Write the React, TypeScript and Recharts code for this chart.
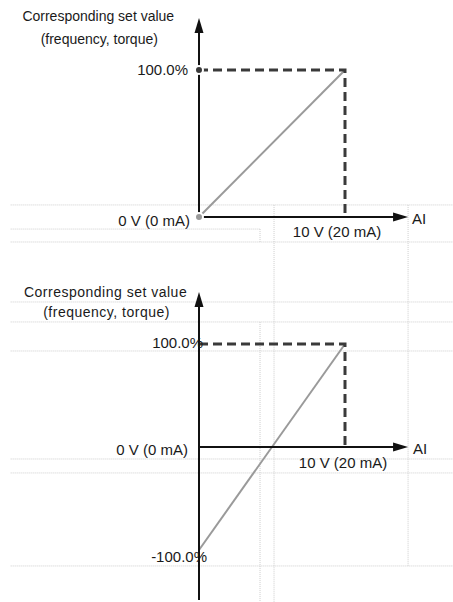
import React from "react";
import {
  ComposedChart,
  Line,
  Scatter,
  XAxis,
  YAxis,
  ReferenceLine,
  ReferenceDot,
} from "recharts";

// analog input range (V) and the set value it maps to (%)
const inputVolts = [0, 10];
const unipolarSetValue = [0, 100];
const bipolarSetValue = [-100, 100];

const titleLines = ["Corresponding set value", "(frequency, torque)"];
const zeroInputLabel = "0 V (0 mA)";
const fullInputLabel = "10 V (20 mA)";
const xAxisName = "AI";
const maxLabel = "100.0%";
const minLabel = "-100.0%";

const W = 453;
const FONT = "'Liberation Sans', Arial, sans-serif";

type Pt = { x: number; y: number };
type Rule = { from: Pt; to: Pt };

const h = (y: number, x1: number, x2: number): Rule => ({ from: { x: x1, y }, to: { x: x2, y } });
const v = (x: number, y1: number, y2: number): Rule => ({ from: { x, y: y1 }, to: { x, y: y2 } });

// faint page rules visible behind the figure (data units of each panel)
const topRules: Rule[] = [
  h(8.2, -12.9, 17.4),
  h(-8.2, -12.9, 4.18),
  h(-17.0, -12.9, 17.4),
  v(4.18, -8.2, -17.0),
  v(5.14, 8.2, -40),
  v(14.32, 8.2, -40),
];
const bottomRules: Rule[] = [
  h(140.8, -12.9, 17.4),
  h(121.4, -12.9, 17.4),
  h(93.2, -12.9, 17.4),
  h(-11.65, -12.9, 17.4),
  h(-25.2, -12.9, 17.4),
  h(-115.5, -12.9, 17.4),
  v(4.18, 121.4, -155),
  v(5.14, 175, -155),
  v(14.32, 175, -115.5),
];

const arrowShape = (props: any) => {
  const { cx, cy, payload } = props;
  if (cx == null || cy == null) return <g />;
  const pts =
    payload.dir === "up"
      ? `${cx},${cy} ${cx - 4.5},${cy + 15} ${cx + 4.5},${cy + 15}`
      : `${cx},${cy} ${cx - 15},${cy - 4.5} ${cx - 15},${cy + 4.5}`;
  return <polygon points={pts} fill="#111" />;
};

const textShape =
  (text: string, dx: number, dy: number, anchor: "start" | "middle" | "end", size = 15, spacing = 0) =>
  (props: any) => (
    <text
      x={props.cx + dx}
      y={props.cy + dy}
      textAnchor={anchor}
      dominantBaseline="central"
      fontFamily={FONT}
      fontSize={size}
      letterSpacing={spacing}
      fill="#1a1a1a"
    >
      {text}
    </text>
  );

interface PanelProps {
  height: number;
  yDomain: [number, number];
  values: number[];
  axisTop: number;
  axisBottom: number;
  titleY: [number, number];
  titleX: number;
  titleSpacing: number;
  bipolar: boolean;
  rules: Rule[];
}

function Panel({ height, yDomain, values, axisTop, axisBottom, titleY, titleX, titleSpacing, bipolar, rules }: PanelProps) {
  const xMax = inputVolts[1];
  const yMax = values[1];
  const line = inputVolts.map((x, i) => ({ x, y: values[i] }));
  const dashed = [
    { x: inputVolts[0], y: yMax },
    { x: xMax, y: yMax },
    { x: xMax, y: 0 },
  ];
  const arrows = [
    { x: 0, y: axisTop, dir: "up" },
    { x: 14.32, y: 0, dir: "right" },
  ];

  return (
    <ComposedChart width={W} height={height} margin={{ top: 0, right: 0, bottom: 0, left: 0 }}>
      <XAxis type="number" dataKey="x" domain={[-13.63, 17.397]} allowDataOverflow hide />
      <YAxis type="number" dataKey="y" domain={yDomain} allowDataOverflow hide />
      {rules.map((r, i) => (
        <ReferenceLine
          key={`rule-${i}`}
          segment={[r.from, r.to]}
          stroke="#cdcdcd"
          strokeWidth={1}
          strokeDasharray="1 1"
          ifOverflow="visible"
        />
      ))}
      <Line
        data={line}
        dataKey="y"
        stroke="#9a9a9a"
        strokeWidth={2}
        dot={false}
        isAnimationActive={false}
      />
      <Line
        data={dashed}
        dataKey="y"
        stroke="#3a3a3a"
        strokeWidth={3}
        strokeDasharray="9 5"
        dot={false}
        isAnimationActive={false}
      />
      <ReferenceLine segment={[{ x: 0, y: axisBottom }, { x: 0, y: axisTop - 4 }]} stroke="#111" strokeWidth={2} />
      <ReferenceLine segment={[{ x: 0, y: 0 }, { x: 13.5, y: 0 }]} stroke="#111" strokeWidth={2} />
      <Scatter data={arrows} dataKey="y" shape={arrowShape} isAnimationActive={false} />
      <ReferenceDot x={titleX} y={titleY[0]} r={0} shape={textShape(titleLines[0], 0, 0, "middle", 14, titleSpacing)} />
      <ReferenceDot x={titleX} y={titleY[1]} r={0} shape={textShape(titleLines[1], 1, 0, "middle", 14, titleSpacing)} />
      {bipolar ? (
        <>
          <ReferenceDot x={0} y={yMax} r={0} shape={textShape(maxLabel, 4, -1, "end")} />
          <ReferenceDot x={0} y={values[0]} r={0} shape={textShape(minLabel, 8, 7, "end")} />
          <ReferenceDot x={0} y={0} r={0} shape={textShape(zeroInputLabel, -11, 3, "end")} />
          <ReferenceDot x={xMax} y={0} r={0} shape={textShape(fullInputLabel, -2, 16, "middle")} />
          <ReferenceDot x={14.32} y={0} r={0} shape={textShape(xAxisName, 5, 2, "start")} />
        </>
      ) : (
        <>
          <ReferenceDot x={0} y={yMax} r={0} shape={textShape(maxLabel, -11, -1, "end")} />
          <ReferenceDot x={0} y={0} r={0} shape={textShape(zeroInputLabel, -9, 3, "end")} />
          <ReferenceDot x={xMax} y={0} r={0} shape={textShape(fullInputLabel, -8, 14, "middle")} />
          <ReferenceDot x={14.32} y={0} r={0} shape={textShape(xAxisName, 4, 1, "start")} />
        </>
      )}
    </ComposedChart>
  );
}

export default function App() {
  return (
    <div style={{ position: "absolute", left: 0, top: 0, width: W, height: 602, background: "#fff" }}>
      <Panel
        height={270}
        yDomain={[-36.05, 147.62]}
        values={unipolarSetValue}
        axisTop={135.4}
        axisBottom={0}
        titleY={[136.7, 121.1]}
        titleX={-6.9}
        titleSpacing={0}
        bipolar={false}
        rules={topRules}
      />
      <Panel
        height={332}
        yDomain={[-150.49, 171.84]}
        values={bipolarSetValue}
        axisTop={150.5}
        axisBottom={-148.5}
        titleY={[150.5, 131.1]}
        titleX={-6.4}
        titleSpacing={0.5}
        bipolar={true}
        rules={bottomRules}
      />
    </div>
  );
}
